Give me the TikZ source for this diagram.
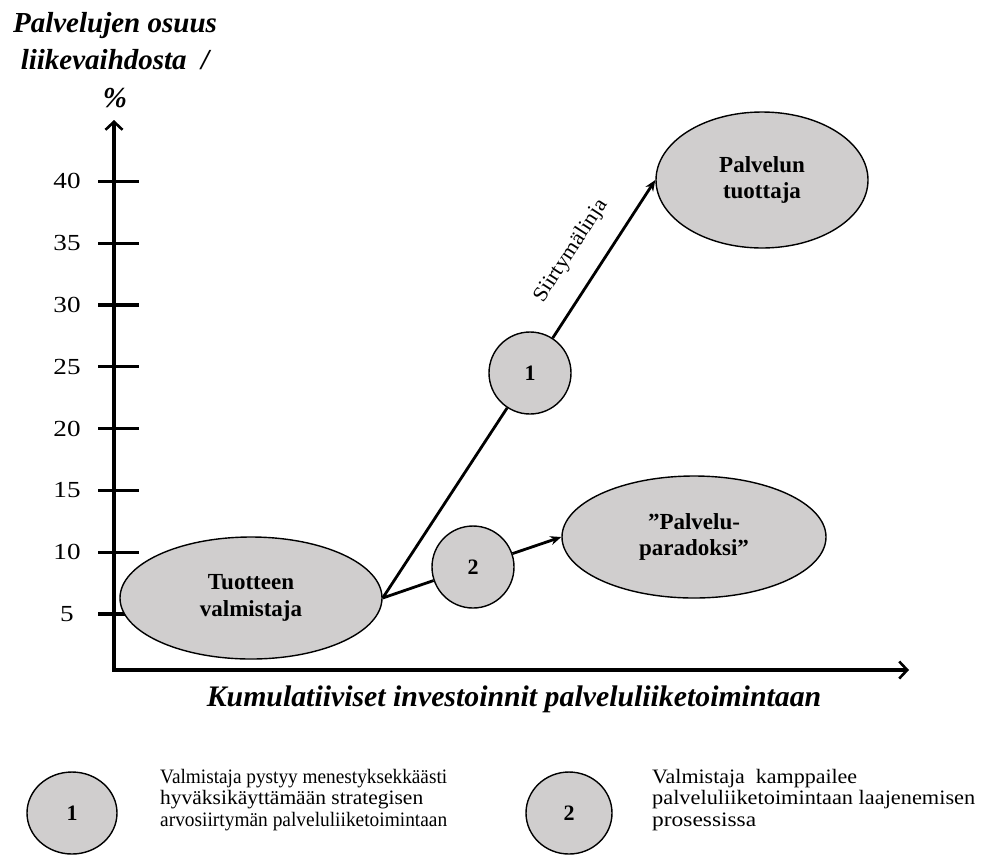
\documentclass[tikz,border=0pt]{standalone}
\usepackage{fontspec}
\setmainfont{Liberation Serif}
\usetikzlibrary{shapes.geometric,arrows.meta}
\definecolor{bubgray}{HTML}{D0CECE}
\newcommand\fitw[2]{\resizebox{#1}{\height}{#2}}
\begin{document}
\begin{tikzpicture}[x=1pt,y=-1pt,
  bub/.style={ellipse,draw=black,line width=1.4pt,fill=bubgray,inner sep=0pt,align=center,
    font=\fontsize{23}{26.5}\selectfont\bfseries},
  numc/.style={bub,font=\fontsize{22}{24}\selectfont\bfseries},
  axisline/.style={line width=3.2pt,
    {Straight Barb[length=8pt,width=17pt,line width=2.6pt]}-{Straight Barb[length=8pt,width=17pt,line width=2.6pt]}},
  tickline/.style={line width=3.2pt},
  conn/.style={line width=2.8pt},
  connarr/.style={conn,-{Stealth[length=11pt,width=9pt]}},
  ticklab/.style={anchor=center,inner sep=0pt,font=\fontsize{23}{26}\selectfont},
  axtitle/.style={inner sep=0pt,align=center,font=\fontsize{29}{37.5}\selectfont\bfseries\itshape},
  legtext/.style={anchor=base west,inner sep=0pt,font=\fontsize{20.5}{21.5}\selectfont}
]
\useasboundingbox (0,0) rectangle (981,855);

% axes
\coordinate (ytop) at (114,120);
\coordinate (xend) at (909,670);
\draw[axisline] (ytop) |- (xend);

% ticks
\foreach \v in {5,10,...,40}{
  \pgfmathsetmacro\yy{614-(\v-5)*61.8/5}
  \draw[tickline] (98,\yy) -- (139,\yy);
  \node[ticklab] (tl\v) at (67,\yy) {\scalebox{1.18}[1]{\v}};
}

% axis titles
\node[axtitle] (ytitle) at (115,60) {Palvelujen osuus\\liikevaihdosta~~/\\\%};
\node[axtitle,font=\fontsize{29.8}{36}\selectfont\bfseries\itshape] (xtitle) at (514,699) {Kumulatiiviset investoinnit palveluliiketoimintaan};

% bubbles
\node[bub,minimum width=262pt,minimum height=122pt] (tv) at (251,598) {Tuotteen\\valmistaja};
\node[bub,minimum width=212pt,minimum height=136pt] (pt) at (762,180) {Palvelun\\tuottaja};
\node[bub,minimum width=264pt,minimum height=122pt] (pp) at (694,537) {”Palvelu-\\paradoksi”};
\node[numc,circle,minimum size=82pt] (c1) at (530,373) {1};
\node[numc,circle,minimum size=82pt] (c2) at (473,567) {2};

% connectors
\draw[conn] (tv.east) -- (c1);
\draw[connarr] (c1) -- node[pos=0.44,sloped,above=21pt,inner sep=0pt,font=\fontsize{21}{24}\selectfont] (sl) {\scalebox{1.08}[1]{Siirtymälinja}} (pt.west);
\draw[conn] (tv.east) -- (c2);
\draw[connarr] (c2) -- (pp.west);

% legend
\node[numc,minimum width=90pt,minimum height=82pt] (l1) at (72,813) {1};
\node[numc,minimum width=86pt,minimum height=82pt] (l2) at (569,813) {2};

\node[legtext] (a1) at (160,783) {\fitw{287pt}{Valmistaja pystyy menestyksekkäästi}};
\node[legtext] (a2) at (160,804.5) {\fitw{263pt}{hyväksikäyttämään strategisen}};
\node[legtext] (a3) at (160,826) {\fitw{287pt}{arvosiirtymän palveluliiketoimintaan}};

\node[legtext] (b1) at (652,783) {\fitw{205pt}{Valmistaja\ \ kamppailee}};
\node[legtext] (b2) at (652,804.5) {\fitw{323pt}{palveluliiketoimintaan laajenemisen}};
\node[legtext] (b3) at (652,826) {\fitw{104pt}{prosessissa}};
\end{tikzpicture}
\end{document}
